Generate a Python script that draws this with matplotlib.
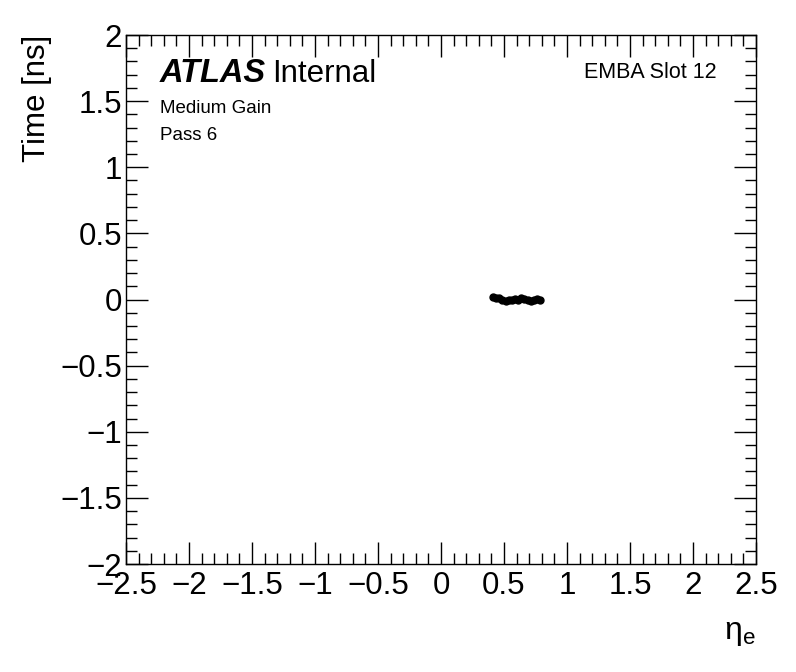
# timing vs eta, ATLAS style plot

import numpy as np
import matplotlib.pyplot as plt
from matplotlib.ticker import MultipleLocator

plt.rcParams['font.family'] = ['Liberation Sans', 'DejaVu Sans']

# === Data ===
eta = [0.4125, 0.4375, 0.4625, 0.4875, 0.5125, 0.5375, 0.5625, 0.5875,
       0.6125, 0.6375, 0.6625, 0.6875, 0.7125, 0.7375, 0.7625, 0.7875]
time_ns = [0.02, 0.015, 0.01, 0.0, -0.01, -0.005, 0.0, 0.005,
           0.0, 0.01, 0.005, -0.005, -0.01, 0.0, 0.005, 0.0]

fig = plt.figure(figsize=(7.96, 6.72), dpi=100)
ax = fig.add_axes([0.1583, 0.1607, 0.7914, 0.7872])

ax.plot(eta, time_ns, 'o', color='black', markersize=5)

ax.set_xlim(-2.5, 2.5)
ax.set_ylim(-2, 2)

# === ROOT-like ticks ===
ax.xaxis.set_major_locator(MultipleLocator(0.5))
ax.xaxis.set_minor_locator(MultipleLocator(0.1))
ax.yaxis.set_major_locator(MultipleLocator(0.5))
ax.yaxis.set_minor_locator(MultipleLocator(0.1))
ax.tick_params(which='both', direction='in', top=True, right=True, width=1)
ax.tick_params(which='major', length=16, labelsize=22.5)
ax.tick_params(axis='x', pad=5)
ax.tick_params(axis='y', pad=3)
ax.tick_params(which='minor', length=8)
fmt = plt.FuncFormatter(lambda v, p: ('%g' % v).replace('-', '\u2212'))
ax.xaxis.set_major_formatter(fmt)
ax.yaxis.set_major_formatter(fmt)
for s in ax.spines.values():
    s.set_linewidth(1)

# === Labels ===
ax.set_xlabel(r'$\mathregular{\eta_e}$', fontsize=23, loc='right', labelpad=12)
ax.set_ylabel('Time [ns]', fontsize=22.5, loc='top', labelpad=6)

ax.text(0.054, 0.912, 'ATLAS', transform=ax.transAxes, fontsize=23.5,
        fontweight='bold', fontstyle='italic')
ax.text(0.232, 0.912, 'Internal', transform=ax.transAxes, fontsize=22.5)
ax.text(0.054, 0.8526, 'Medium Gain', transform=ax.transAxes, fontsize=13.5)
ax.text(0.054, 0.8015, 'Pass 6', transform=ax.transAxes, fontsize=13.5)
ax.text(0.938, 0.9187, 'EMBA Slot 12', transform=ax.transAxes, fontsize=15.5,
        ha='right')

fig.savefig('out.png', dpi=100)
